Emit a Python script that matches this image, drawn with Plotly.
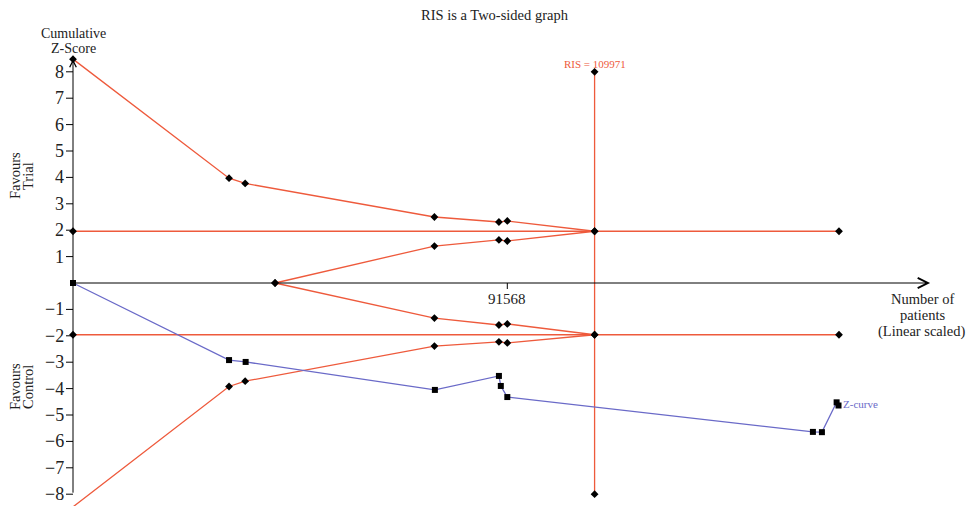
import plotly.graph_objects as go

# ---------------- data ----------------
alpha_n = [0, 32900, 36300, 76200, 89800, 91568, 109971]
alpha_upper = [8.48, 3.97, 3.77, 2.50, 2.31, 2.35, 1.96]
alpha_lower = [-8.48, -3.92, -3.72, -2.39, -2.23, -2.27, -1.96]

fut_n = [42600, 76200, 89800, 91568, 109971]
fut_upper = [0, 1.40, 1.63, 1.59, 1.96]
fut_lower = [0, -1.33, -1.59, -1.55, -1.96]

conv_n = [0, 161500]
conv_z = 1.96

ris_value = 109971
ris_z = [-8, 8]

zcurve_n = [0, 32900, 36400, 76300, 89800, 90200, 91568, 156000, 157900, 161000, 161400]
zcurve_z = [0, -2.92, -2.99, -4.05, -3.52, -3.90, -4.32, -5.64, -5.65, -4.52, -4.64]

y_ticks = [-8, -7, -6, -5, -4, -3, -2, -1, 1, 2, 3, 4, 5, 6, 7, 8]
x_ticks = [91568]
x_axis_end = 180700
y_axis_top = 8.48
y_axis_bottom = -8

title_text = "RIS is a Two-sided graph"
y_title_lines = ["Cumulative", "Z-Score"]
x_title_lines = ["Number of", "patients", "(Linear scaled)"]
trial_lines = ["Favours", "Trial"]
control_lines = ["Favours", "Control"]

# ---------------- style ----------------
RED = "#EE5A3C"
BLUE = "#6A6AC8"
FONT = "Liberation Serif, Times New Roman, serif"
TXT = "#222"

fig = go.Figure()

dia = dict(symbol="diamond", size=6, color="black")
sq = dict(symbol="square", size=6, color="black")
red_line = dict(color=RED, width=1.3)

# conventional boundaries
for s in (1, -1):
    fig.add_trace(go.Scatter(x=conv_n, y=[s * conv_z] * len(conv_n), mode="lines+markers",
                             line=red_line, marker=dia, cliponaxis=False))
# RIS line
fig.add_trace(go.Scatter(x=[ris_value] * len(ris_z), y=ris_z, mode="lines+markers",
                         line=red_line, marker=dia, cliponaxis=False))
# alpha-spending boundaries
fig.add_trace(go.Scatter(x=alpha_n, y=alpha_upper, mode="lines+markers",
                         line=red_line, marker=dia, cliponaxis=False))
fig.add_trace(go.Scatter(x=alpha_n, y=alpha_lower, mode="lines+markers",
                         line=red_line, marker=dia, cliponaxis=False))
# futility boundaries
fig.add_trace(go.Scatter(x=fut_n, y=fut_upper, mode="lines+markers",
                         line=red_line, marker=dia, cliponaxis=False))
fig.add_trace(go.Scatter(x=fut_n, y=fut_lower, mode="lines+markers",
                         line=red_line, marker=dia, cliponaxis=False))
# Z-curve
fig.add_trace(go.Scatter(x=zcurve_n, y=zcurve_z, mode="lines+markers",
                         line=dict(color=BLUE, width=1.3), marker=sq, cliponaxis=False))

annotations = []
shapes = []

# axes drawn as arrows
annotations.append(dict(x=x_axis_end, y=0, ax=0, ay=0, xref="x", yref="y", axref="x", ayref="y",
                        text="", showarrow=True, arrowhead=5, arrowsize=2, arrowwidth=1,
                        arrowcolor="black", standoff=0))
annotations.append(dict(x=0, y=y_axis_top, ax=0, ay=y_axis_bottom, xref="x", yref="y", axref="x",
                        ayref="y", text="", showarrow=True, arrowhead=5, arrowsize=1.3,
                        arrowwidth=1, arrowcolor="black", standoff=0))

# y ticks
for t in y_ticks:
    shapes.append(dict(type="line", xref="x", yref="y", xsizemode="pixel", xanchor=0,
                       x0=-7, x1=0, y0=t, y1=t, line=dict(color="black", width=1)))
    annotations.append(dict(x=0, y=t, xref="x", yref="y", xanchor="right", yanchor="middle",
                            xshift=-7, text=str(t).replace("-", "\u2212"), showarrow=False,
                            font=dict(family=FONT, size=18, color=TXT)))
# x ticks
for t in x_ticks:
    shapes.append(dict(type="line", xref="x", yref="y", ysizemode="pixel", yanchor=0,
                       x0=t, x1=t, y0=-6, y1=0, line=dict(color="black", width=1)))
    annotations.append(dict(x=t, y=0, xref="x", yref="y", xanchor="center", yanchor="top",
                            yshift=-6, text=str(t), showarrow=False,
                            font=dict(family=FONT, size=15, color=TXT)))

# RIS label
annotations.append(dict(x=ris_value, y=max(ris_z), xref="x", yref="y", xanchor="center",
                        yanchor="bottom", yshift=0, text=f"RIS = {ris_value}", showarrow=False,
                        font=dict(family=FONT, size=11, color=RED)))
# Z-curve label
annotations.append(dict(x=zcurve_n[-1], y=zcurve_z[-1], xref="x", yref="y", xanchor="left",
                        yanchor="middle", xshift=2, yshift=2, text="Z-curve", showarrow=False,
                        font=dict(family=FONT, size=11, color=BLUE)))

# title
annotations.append(dict(x=495 / 972, y=1 - 15 / 506, xref="paper", yref="paper",
                        xanchor="center", yanchor="middle", text=title_text, showarrow=False,
                        font=dict(family=FONT, size=14.5, color=TXT)))
# y title
for i, line in enumerate(y_title_lines):
    annotations.append(dict(x=73 / 972, y=1 - (33.5 + 15 * i) / 506, xref="paper", yref="paper",
                            xanchor="center", yanchor="middle", text=line, showarrow=False,
                            borderpad=0, font=dict(family=FONT, size=14, color=TXT)))
# x title
for i, line in enumerate(x_title_lines):
    annotations.append(dict(x=922 / 972, y=1 - (299 + 16 * i) / 506, xref="paper", yref="paper",
                            xanchor="center", yanchor="middle", text=line, showarrow=False,
                            borderpad=0, font=dict(family=FONT, size=14.5, color=TXT)))
# favours labels (rotated)
for lines, yc in ((trial_lines, 176), (control_lines, 387)):
    for i, line in enumerate(lines):
        annotations.append(dict(x=(15 + 13 * i) / 972, y=1 - yc / 506, xref="paper", yref="paper",
                                xanchor="center", yanchor="middle", text=line, textangle=-90,
                                borderpad=0, showarrow=False,
                                font=dict(family=FONT, size=14.5, color=TXT)))

px_per_n = 0.004743
px_per_z = 26.4
x0_px, y0_px = 73, 283
fig.update_layout(
    width=972, height=506,
    margin=dict(l=0, r=0, t=0, b=0, pad=0),
    paper_bgcolor="white", plot_bgcolor="white",
    showlegend=False,
    xaxis=dict(visible=False, range=[-x0_px / px_per_n, (972 - x0_px) / px_per_n], fixedrange=True),
    yaxis=dict(visible=False, range=[-(506 - y0_px) / px_per_z, y0_px / px_per_z], fixedrange=True),
    annotations=annotations,
    shapes=shapes,
)

fig.write_html("out.html", config={"displayModeBar": False},
               post_script="document.body.style.margin='0';document.body.style.overflow='hidden';")
